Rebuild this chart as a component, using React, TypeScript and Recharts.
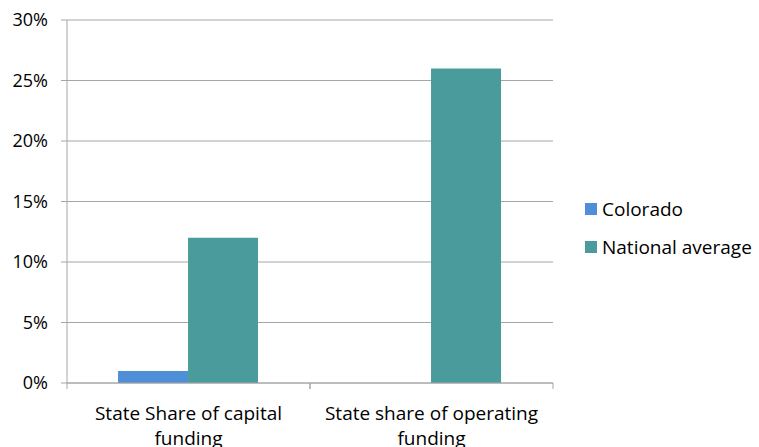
import React from 'react'
import { BarChart, Bar, XAxis, YAxis, CartesianGrid } from 'recharts'

const categories = ['State Share of capital funding', 'State share of operating funding']
const colorado = [1, 0]
const nationalAverage = [12, 26]
const yTicks = [0, 5, 10, 15, 20, 25, 30]

const data = categories.map((name, i) => ({
  name,
  colorado: colorado[i],
  national: nationalAverage[i],
}))

const FONT = '"Open Sans", sans-serif'
const AXIS = '#a6a6a6'

// two-line category label, last word goes on the second line
const XTick = (props: any) => {
  const { x, y, payload } = props
  const half = payload.offset ?? 121
  const words = String(payload.value).split(' ')
  const line2 = words.pop()
  const line1 = words.join(' ')
  return (
    <g>
      <line x1={x - half} x2={x - half} y1={y - 8} y2={y - 2} stroke={AXIS} />
      <line x1={x + half} x2={x + half} y1={y - 8} y2={y - 2} stroke={AXIS} />
      <text x={x} y={y} textAnchor="middle" fontSize={19} fontFamily={FONT} fill="#000">
        <tspan x={x} dy={29}>{line1}</tspan>
        <tspan x={x} dy={25}>{line2}</tspan>
      </text>
    </g>
  )
}

const legendItems = [
  { label: 'Colorado', color: '#4f8fd8' },
  { label: 'National average', color: '#4a9c9c' },
]

const App = () => {
  return (
    <div style={{ position: 'absolute', left: 0, top: 0, width: 759, height: 447, fontFamily: FONT }}>
      <BarChart
        width={759}
        height={447}
        data={data}
        margin={{ top: 20, right: 206, bottom: 0, left: 0 }}
        barCategoryGap="21%"
        barGap={0}
      >
        <CartesianGrid vertical={false} stroke={AXIS} />
        <XAxis
          dataKey="name"
          tickLine={false}
          axisLine={{ stroke: AXIS }}
          tick={<XTick />}
          interval={0}
          height={64}
        />
        <YAxis
          width={67}
          domain={[0, 30]}
          ticks={yTicks}
          tickFormatter={(v) => `${v}%`}
          tickSize={6}
          tickMargin={13}
          axisLine={{ stroke: AXIS }}
          tickLine={{ stroke: AXIS }}
          tick={{ fill: '#000', fontSize: 18, fontFamily: FONT }}
          interval={0}
        />
        <Bar dataKey="colorado" name="Colorado" fill="#4f8fd8" isAnimationActive={false} />
        <Bar dataKey="national" name="National average" fill="#4a9c9c" isAnimationActive={false} />
      </BarChart>
      <div style={{ position: 'absolute', left: 585, top: 190, fontSize: 19, color: '#000' }}>
        {legendItems.map((it) => (
          <div key={it.label} style={{ display: 'flex', alignItems: 'center', height: 38 }}>
            <span style={{ width: 12, height: 12, background: it.color, marginRight: 5, display: 'inline-block' }} />
            {it.label}
          </div>
        ))}
      </div>
    </div>
  )
}

export default App
